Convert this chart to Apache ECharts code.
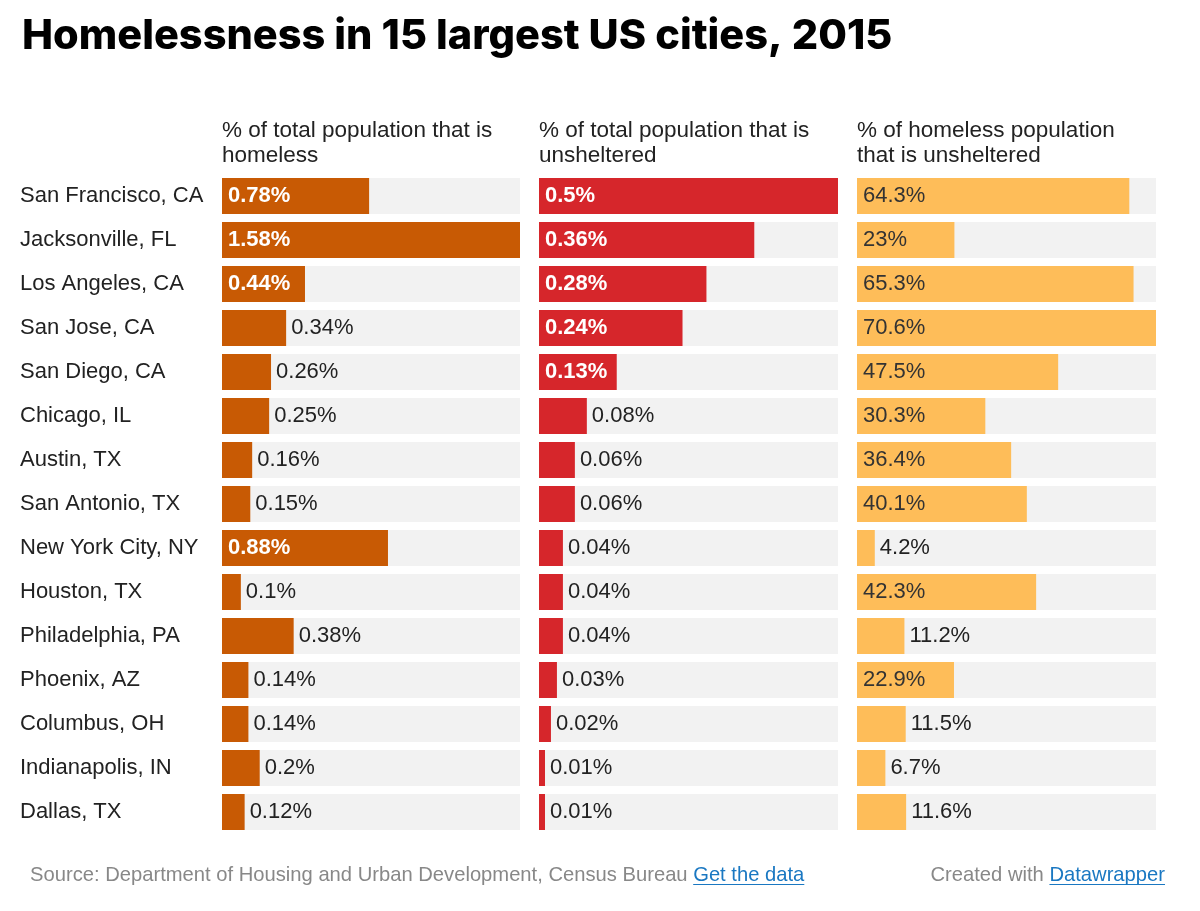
<!DOCTYPE html>
<html>
<head>
<meta charset="utf-8">
<script src="https://cdn.jsdelivr.net/npm/echarts@6/dist/echarts.min.js"></script>
<style>html,body{margin:0;padding:0;background:#fff;}#c{width:1200px;height:911px;}</style>
</head>
<body>
<div id="c"></div>
<script>
const cities = ["San Francisco, CA","Jacksonville, FL","Los Angeles, CA","San Jose, CA","San Diego, CA","Chicago, IL","Austin, TX","San Antonio, TX","New York City, NY","Houston, TX","Philadelphia, PA","Phoenix, AZ","Columbus, OH","Indianapolis, IN","Dallas, TX"];
const pctHomeless = [0.78,1.58,0.44,0.34,0.26,0.25,0.16,0.15,0.88,0.1,0.38,0.14,0.14,0.2,0.12];
const pctUnsheltered = [0.5,0.36,0.28,0.24,0.13,0.08,0.06,0.06,0.04,0.04,0.04,0.03,0.02,0.01,0.01];
const pctHomelessUnsheltered = [64.3,23,65.3,70.6,47.5,30.3,36.4,40.1,4.2,42.3,11.2,22.9,11.5,6.7,11.6];
const headers = ["% of total population that is\nhomeless","% of total population that is\nunsheltered","% of homeless population\nthat is unsheltered"];
const colors = ["#c85a04","#d6262b","#febd59"];
const insideTextColors = ["#ffffff","#ffffff","#333333"];
const insideBold = ["bold","bold","normal"];

const FONT = "'Liberation Sans', Arial, Helvetica, sans-serif";
const FS = 22;
const panels = [pctHomeless, pctUnsheltered, pctHomelessUnsheltered];
const lefts = [222, 539, 857];
const widths = [298, 299, 299];
const TOP = 174, HEIGHT = 660;

const ctx = document.createElement('canvas').getContext('2d');
function tw(t, size, weight) { ctx.font = (weight||'normal') + ' ' + size + 'px ' + FONT; return ctx.measureText(t).width; }

const chart = echarts.init(document.getElementById('c'));
const grids = [], xAxes = [], yAxes = [], series = [], graphics = [];
panels.forEach((arr, i) => {
  const mx = Math.max(...arr);
  grids.push({left: lefts[i], width: widths[i], top: TOP, height: HEIGHT});
  xAxes.push({type:'value', gridIndex:i, min:0, max:mx, show:false});
  yAxes.push({type:'category', gridIndex:i, data:cities, inverse:true,
    axisLine:{show:false}, axisTick:{show:false}, splitLine:{show:false},
    axisLabel: i===0 ? {show:true, align:'left', margin:202, color:'#222', fontSize:FS, fontFamily:FONT, padding:[2,0,0,0]} : {show:false}});
  series.push({
    type:'bar', xAxisIndex:i, yAxisIndex:i, barWidth:36,
    showBackground:true, backgroundStyle:{color:'#f2f2f2'},
    itemStyle:{color:colors[i]},
    silent:true, animation:false,
    data: arr.map(v => {
      const inside = v / mx >= 0.25;
      return {value:v, label:{show:true, position: inside ? 'insideLeft' : 'right',
        distance: inside ? 6 : 5,
        color: inside ? insideTextColors[i] : '#222',
        fontWeight: inside ? insideBold[i] : 'normal',
        fontSize:FS, fontFamily:FONT, padding:[2,0,0,0],
        formatter: p => p.value + '%'}};
    })
  });
  graphics.push({type:'text', left: lefts[i], top: 118,
    style:{text: headers[i], fontSize:22.5, lineHeight:25, fontFamily:FONT, fill:'#222'}});
});

graphics.push({type:'text', left:22, top:16,
  style:{text:'Homelessness in 15 largest US cities, 2015', fontSize:41.5, fontWeight:800, fontFamily:'Inter, Roboto, sans-serif', fill:'#000'}});

const FFS = 20.2;
const src = 'Source: Department of Housing and Urban Development, Census Bureau ';
const link1 = 'Get the data';
const cw = 'Created with ';
const link2 = 'Datawrapper';
const srcX = 30, footTop = 865;
const l1x = srcX + tw(src, FFS), l1w = tw(link1, FFS);
const rightEdge = 1165;
const l2w = tw(link2, FFS), l2x = rightEdge - l2w;
graphics.push({type:'text', left:srcX, top:footTop,
  style:{text:'{s|' + src + '}{l|' + link1 + '}', fontFamily:FONT, fontSize:FFS,
    rich:{s:{fill:'#888', fontSize:FFS, fontFamily:FONT}, l:{fill:'#1a78c2', fontSize:FFS, fontFamily:FONT}}}});
graphics.push({type:'text', right:1200 - rightEdge, top:footTop,
  style:{text:'{s|' + cw + '}{l|' + link2 + '}', fontFamily:FONT, fontSize:FFS,
    rich:{s:{fill:'#888', fontSize:FFS, fontFamily:FONT}, l:{fill:'#1a78c2', fontSize:FFS, fontFamily:FONT}}}});
graphics.push({type:'line', shape:{x1:l1x, y1:884.5, x2:l1x + l1w, y2:884.5}, style:{stroke:'#1a78c2', lineWidth:1}});
graphics.push({type:'line', shape:{x1:l2x, y1:884.5, x2:rightEdge, y2:884.5}, style:{stroke:'#1a78c2', lineWidth:1}});

chart.setOption({animation:false, grid:grids, xAxis:xAxes, yAxis:yAxes, series:series, graphic:graphics});
</script>
</body>
</html>
